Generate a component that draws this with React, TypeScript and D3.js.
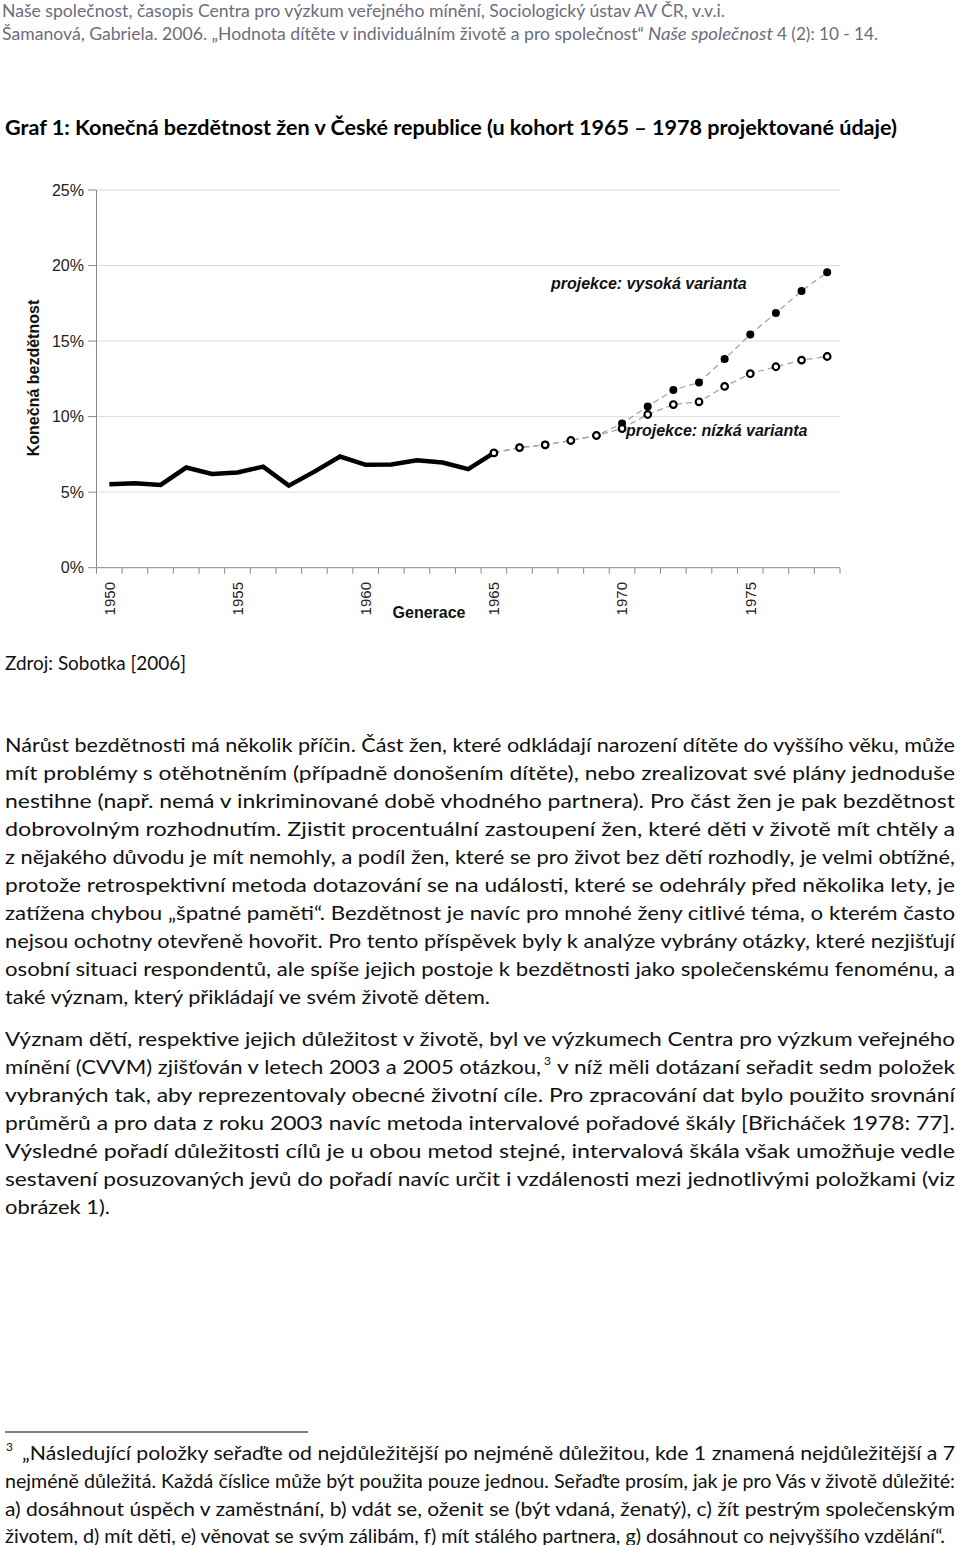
import React from 'react';
import * as d3 from 'd3';

// ---------- chart data ----------
const cohorts = [1950, 1951, 1952, 1953, 1954, 1955, 1956, 1957, 1958, 1959, 1960, 1961, 1962, 1963, 1964, 1965, 1966, 1967, 1968, 1969, 1970, 1971, 1972, 1973, 1974, 1975, 1976, 1977, 1978];
const observedYears = [1950, 1951, 1952, 1953, 1954, 1955, 1956, 1957, 1958, 1959, 1960, 1961, 1962, 1963, 1964, 1965];
const observedValues = [5.53, 5.59, 5.48, 6.63, 6.21, 6.3, 6.69, 5.43, 6.36, 7.36, 6.81, 6.83, 7.11, 6.96, 6.52, 7.6];
const projectionYears = [1965, 1966, 1967, 1968, 1969, 1970, 1971, 1972, 1973, 1974, 1975, 1976, 1977, 1978];
const lowVariant = [7.6, 7.95, 8.13, 8.42, 8.75, 9.21, 10.14, 10.8, 10.98, 12.0, 12.84, 13.3, 13.74, 13.98];
const highVariant = [7.6, 7.95, 8.13, 8.42, 8.75, 9.54, 10.67, 11.76, 12.26, 13.81, 15.44, 16.86, 18.32, 19.55];
const yTickValues = [0, 5, 10, 15, 20, 25];
const xLabelYears = [1950, 1955, 1960, 1965, 1970, 1975];

// ---------- page texts ----------
const headerLine1 = 'Naše společnost, časopis Centra pro výzkum veřejného mínění, Sociologický ústav AV ČR, v.v.i.';
const headerLine2a = 'Šamanová, Gabriela. 2006. „Hodnota dítěte v individuálním životě a pro společnost“';
const headerLine2b = 'Naše společnost';
const headerLine2c = '4 (2): 10 - 14.';
const chartTitle = 'Graf 1: Konečná bezdětnost žen v České republice (u kohort 1965 – 1978 projektované údaje)';
const sourceText = 'Zdroj: Sobotka [2006]';
const para1 = [
  'Nárůst bezdětnosti má několik příčin. Část žen, které odkládají narození dítěte do vyššího věku, může',
  'mít problémy s otěhotněním (případně donošením dítěte), nebo zrealizovat své plány jednoduše',
  'nestihne (např. nemá v inkriminované době vhodného partnera). Pro část žen je pak bezdětnost',
  'dobrovolným rozhodnutím. Zjistit procentuální zastoupení žen, které děti v životě mít chtěly a',
  'z nějakého důvodu je mít nemohly, a podíl žen, které se pro život bez dětí rozhodly, je velmi obtížné,',
  'protože retrospektivní metoda dotazování se na události, které se odehrály před několika lety, je',
  'zatížena chybou „špatné paměti“. Bezdětnost je navíc pro mnohé ženy citlivé téma, o kterém často',
  'nejsou ochotny otevřeně hovořit. Pro tento příspěvek byly k analýze vybrány otázky, které nezjišťují',
  'osobní situaci respondentů, ale spíše jejich postoje k bezdětnosti jako společenskému fenoménu, a',
  'také význam, který přikládají ve svém životě dětem.',
];
const para1Ends = [955, 955, 955, 955, 955, 955, 955, 955, 955, 490];
const para2Line1 = 'Význam dětí, respektive jejich důležitost v životě, byl ve výzkumech Centra pro výzkum veřejného';
const para2Line2a = 'mínění (CVVM) zjišťován v letech 2003 a 2005 otázkou,';
const para2Line2b = 'v níž měli dotázaní seřadit sedm položek';
const para2Rest = [
  'vybraných tak, aby reprezentovaly obecné životní cíle. Pro zpracování dat bylo použito srovnání',
  'průměrů a pro data z roku 2003 navíc metoda intervalové pořadové škály [Břicháček 1978: 77].',
  'Výsledné pořadí důležitosti cílů je u obou metod stejné, intervalová škála však umožňuje vedle',
  'sestavení posuzovaných jevů do pořadí navíc určit i vzdálenosti mezi jednotlivými položkami (viz',
  'obrázek 1).',
];
const para2RestEnds = [955, 955, 955, 955, 110];
const footLine1 = '„Následující položky seřaďte od nejdůležitější po nejméně důležitou, kde 1 znamená nejdůležitější a 7';
const footRest = [
  'nejméně důležitá. Každá číslice může být použita pouze jednou. Seřaďte prosím, jak je pro Vás v životě důležité:',
  'a) dosáhnout úspěch v zaměstnání, b) vdát se, oženit se (být vdaná, ženatý), c) žít pestrým společenským',
  'životem, d) mít děti, e) věnovat se svým zálibám, f) mít stálého partnera, g) dosáhnout co nejvyššího vzdělání“.',
];
const footRestEnds = [955, 955, 945];

const BODY_FONT = 'Lato, "Open Sans", sans-serif';
const CHART_FONT = '"Liberation Sans", Arial, sans-serif';

type TLProps = {
  x: number; y: number; end: number; text: string; size: number;
  weight?: string | number; italic?: boolean; fill?: string;
};
function TL({ x, y, end, text, size, weight = 'normal', italic = false, fill = '#111' }: TLProps) {
  return (
    <text x={x} y={y} textLength={end - x} lengthAdjust="spacingAndGlyphs"
      fontFamily={BODY_FONT} fontSize={size} fontWeight={weight}
      fontStyle={italic ? 'italic' : 'normal'} fill={fill}>{text}</text>
  );
}

export default function App() {
  const x = d3.scaleBand<number>().domain(cohorts).range([96.5, 840]).padding(0);
  const cx = (yr: number) => (x(yr) as number) + x.bandwidth() / 2;
  const y = d3.scaleLinear().domain([0, 25]).range([567.7, 190]);
  const line = d3.line<[number, number]>().x(d => cx(d[0])).y(d => y(d[1]));

  const obs: [number, number][] = observedYears.map((yr, i) => [yr, observedValues[i]]);
  const low: [number, number][] = projectionYears.map((yr, i) => [yr, lowVariant[i]]);
  const high: [number, number][] = projectionYears.map((yr, i) => [yr, highVariant[i]]);

  const boundaries = cohorts.map(c => x(c) as number).concat([x.range()[1]]);
  const headerColor = '#6c6c7e';

  return (
    <svg width={960} height={1545} style={{ position: 'absolute', left: 0, top: 0, background: '#fff' }}>
      <rect x={0} y={0} width={960} height={1545} fill="#fff" />
      {/* header */}
      <TL x={2} y={17} end={725} text={headerLine1} size={18} fill={headerColor} />
      <TL x={2} y={40} end={644} text={headerLine2a} size={18} fill={headerColor} />
      <TL x={648} y={40} end={773} text={headerLine2b} size={18} italic fill={headerColor} />
      <TL x={777} y={40} end={878} text={headerLine2c} size={18} fill={headerColor} />

      {/* title */}
      <TL x={5} y={135} end={897} text={chartTitle} size={21} weight="bold" fill="#000" />

      {/* chart */}
      <g fontFamily={CHART_FONT}>
        {yTickValues.map(v => (
          <g key={v}>
            {v > 0 && <line x1={96.5} x2={840} y1={y(v)} y2={y(v)} stroke="#dcdcdc" strokeWidth={1} />}
            <line x1={88} x2={96.5} y1={y(v)} y2={y(v)} stroke="#888" strokeWidth={1} />
            <text x={84} y={y(v)} dy="0.36em" textAnchor="end" fontSize={16} fill="#222">{v}%</text>
          </g>
        ))}
        <line x1={96.5} x2={96.5} y1={y(25)} y2={y(0)} stroke="#888" strokeWidth={1} />
        <line x1={96.5} x2={840} y1={y(0)} y2={y(0)} stroke="#888" strokeWidth={1} />
        {boundaries.map((b, i) => (
          <line key={i} x1={b} x2={b} y1={y(0)} y2={y(0) + 6} stroke="#888" strokeWidth={1} />
        ))}
        {xLabelYears.map(yr => (
          <text key={yr} transform={`translate(${cx(yr)},582) rotate(-90)`} dy="0.35em"
            textAnchor="end" fontSize={15} fill="#222">{yr}</text>
        ))}
        <text x={429} y={618} textAnchor="middle" fontSize={16} fontWeight="bold" fill="#111">Generace</text>
        <text transform="translate(33,378) rotate(-90)" dy="0.35em" textAnchor="middle"
          fontSize={16} fontWeight="bold" fill="#111">Konečná bezdětnost</text>

        {/* projections */}
        <path d={line(high) || ''} fill="none" stroke="#a99a9c" strokeWidth={1.2} strokeDasharray="6,4" />
        <path d={line(low) || ''} fill="none" stroke="#a99a9c" strokeWidth={1.2} strokeDasharray="6,4" />
        {/* observed */}
        <path d={line(obs) || ''} fill="none" stroke="#000" strokeWidth={4.5} strokeLinejoin="miter" />
        {high.map(d => (
          <circle key={'h' + d[0]} cx={cx(d[0])} cy={y(d[1])} r={4} fill="#000" />
        ))}
        {low.map(d => (
          <circle key={'l' + d[0]} cx={cx(d[0])} cy={y(d[1])} r={3.3} fill="#fff" stroke="#000" strokeWidth={2.2} />
        ))}
        <text x={551} y={289} fontSize={16} fontWeight="bold" fontStyle="italic" fill="#111">projekce: vysoká varianta</text>
        <text x={626} y={436} fontSize={16} fontWeight="bold" fontStyle="italic" fill="#111">projekce: nízká varianta</text>
      </g>

      {/* source */}
      <TL x={5} y={670} end={186} text={sourceText} size={20} />

      {/* paragraph 1 */}
      {para1.map((t, i) => (
        <TL key={'p1' + i} x={5} y={752 + i * 28} end={para1Ends[i]} text={t} size={20} />
      ))}

      {/* paragraph 2 */}
      <TL x={5} y={1046} end={955} text={para2Line1} size={20} />
      <TL x={5} y={1074} end={541} text={para2Line2a} size={20} />
      <text x={544} y={1065} fontFamily={BODY_FONT} fontSize={12} fill="#111">3</text>
      <TL x={557} y={1074} end={955} text={para2Line2b} size={20} />
      {para2Rest.map((t, i) => (
        <TL key={'p2' + i} x={5} y={1102 + i * 28} end={para2RestEnds[i]} text={t} size={20} />
      ))}

      {/* footnote */}
      <line x1={5} x2={308} y1={1432} y2={1432} stroke="#000" strokeWidth={1} />
      <text x={6} y={1451} fontFamily={BODY_FONT} fontSize={12} fill="#111">3</text>
      <TL x={22} y={1460} end={955} text={footLine1} size={20} />
      {footRest.map((t, i) => (
        <TL key={'f' + i} x={5} y={1488 + i * 27.5} end={footRestEnds[i]} text={t} size={20} />
      ))}
    </svg>
  );
}
